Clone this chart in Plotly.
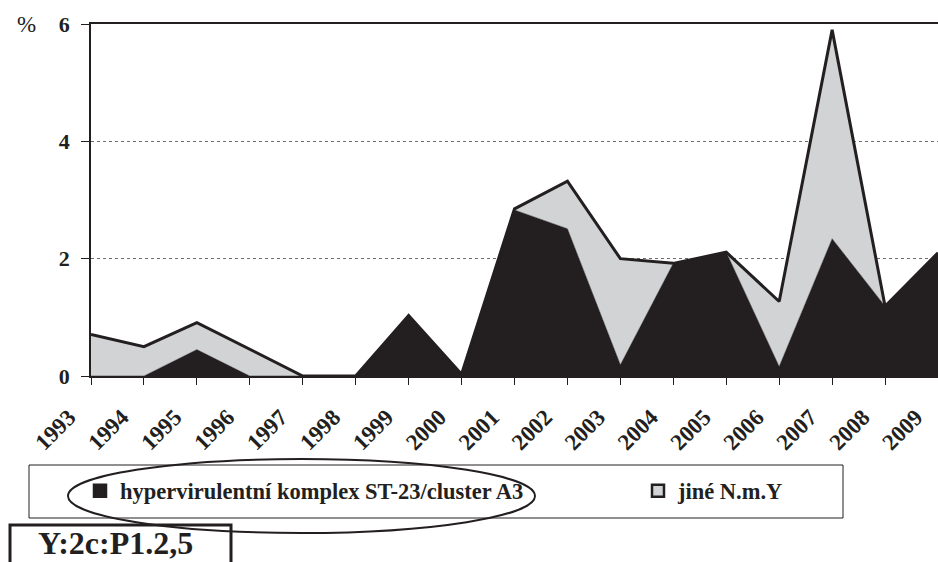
import plotly.graph_objects as go

# ---- data ----
years = list(range(1993, 2010))
hypervirulent = [0.0, 0.0, 0.45, 0.0, 0.0, 0.0, 1.03, 0.03, 2.83, 2.51, 0.19, 1.92, 2.11, 0.16, 2.34, 1.19, 2.1]
other_nmy = [0.71, 0.50, 0.46, 0.45, 0.0, 0.0, 0.0, 0.0, 0.02, 0.81, 1.81, 0.0, 0.0, 1.11, 3.56, 0.0, 0.0]
y_ticks = [0, 2, 4, 6]
series_names = ["hypervirulentní komplex ST-23/cluster A3", "jiné N.m.Y"]
y_unit = "%"
box_label = "Y:2c:P1.2,5"

BLACK = "#231f20"
GREY = "#d1d3d4"
FONT = "Liberation Serif"

W, H = 938, 562
L, R, T, B = 91, 0, 24, 186
PW, PH = W - L - R, H - T - B


def px_x(px):
    return (px - L) / PW


def px_y(py):
    return (H - B - py) / PH


fig = go.Figure()
fig.add_trace(go.Scatter(
    x=years, y=hypervirulent, stackgroup="s", mode="lines",
    fillcolor=BLACK, line=dict(color=BLACK, width=0.5),
    name=series_names[0], showlegend=False, hoverinfo="x+y"))
fig.add_trace(go.Scatter(
    x=years, y=other_nmy, stackgroup="s", mode="lines",
    fillcolor=GREY, line=dict(color=BLACK, width=3),
    name=series_names[1], showlegend=False, hoverinfo="x+y"))

# legend entries (square swatches), one legend box each
fig.add_trace(go.Bar(x=[None], y=[None], name=series_names[0], legend="legend",
                     marker=dict(color=BLACK, line=dict(color=BLACK, width=2.5))))
fig.add_trace(go.Bar(x=[None], y=[None], name=series_names[1], legend="legend2",
                     marker=dict(color=GREY, line=dict(color=BLACK, width=2.5))))

tickfont = dict(family=FONT, size=23, color=BLACK, weight="bold")
legfont = dict(family=FONT, size=22.5, color=BLACK, weight="bold")

fig.update_layout(
    width=W, height=H,
    margin=dict(l=L, r=R, t=T, b=B, autoexpand=False),
    paper_bgcolor="white", plot_bgcolor="white",
    showlegend=True,
    legend=dict(
        orientation="h", x=px_x(80), xanchor="left", y=px_y(491), yanchor="middle",
        font=legfont, bgcolor="rgba(0,0,0,0)", borderwidth=0, traceorder="normal",
    ),
    legend2=dict(
        orientation="h", x=px_x(638), xanchor="left", y=px_y(491), yanchor="middle",
        font=legfont, bgcolor="rgba(0,0,0,0)", borderwidth=0, traceorder="normal",
    ),
    xaxis=dict(
        range=[years[0], years[-1]], tickmode="array", tickvals=years,
        ticktext=[str(y) for y in years], tickangle=-45, tickfont=tickfont,
        ticks="outside", ticklen=7, tickcolor=BLACK, tickwidth=1,
        ticklabelshift=-22, ticklabelstandoff=10, ticklabeloverflow="allow",
        showline=True, linecolor=BLACK, linewidth=1.5, mirror=True,
        showgrid=False, zeroline=False, automargin=False,
    ),
    yaxis=dict(
        range=[0, 6], tickmode="array", tickvals=y_ticks,
        tickfont=dict(family=FONT, size=22, color=BLACK, weight="bold"),
        ticks="outside", ticklen=8, tickcolor=BLACK, tickwidth=1,
        ticklabelstandoff=7,
        showline=True, linecolor=BLACK, linewidth=1.5,
        showgrid=True, gridcolor="#6d6e71", gridwidth=1, griddash="dot",
        zeroline=False, automargin=False,
    ),
    shapes=[
        dict(type="rect", xref="paper", yref="paper",
             x0=px_x(29), x1=px_x(843), y0=px_y(518), y1=px_y(465),
             line=dict(color=BLACK, width=1), layer="below"),
        dict(type="circle", xref="paper", yref="paper",
             x0=px_x(68), x1=px_x(535), y0=px_y(533), y1=px_y(459),
             line=dict(color=BLACK, width=2)),
        dict(type="rect", xref="paper", yref="paper",
             x0=px_x(10), x1=px_x(231), y0=px_y(566), y1=px_y(525),
             line=dict(color=BLACK, width=3)),
    ],
    annotations=[
        dict(text=y_unit, xref="paper", yref="paper", x=px_x(26), y=px_y(25),
             showarrow=False, font=dict(family=FONT, size=23, color=BLACK),
             xanchor="center", yanchor="middle"),
        dict(text=box_label, xref="paper", yref="paper", x=px_x(115), y=px_y(543),
             showarrow=False, font=dict(family=FONT, size=32, color=BLACK, weight="bold"),
             xanchor="center", yanchor="middle"),
    ],
)

fig.write_html("out.html", config={"displayModeBar": False},
               post_script="document.body.style.margin='0';document.body.style.overflow='hidden';")
